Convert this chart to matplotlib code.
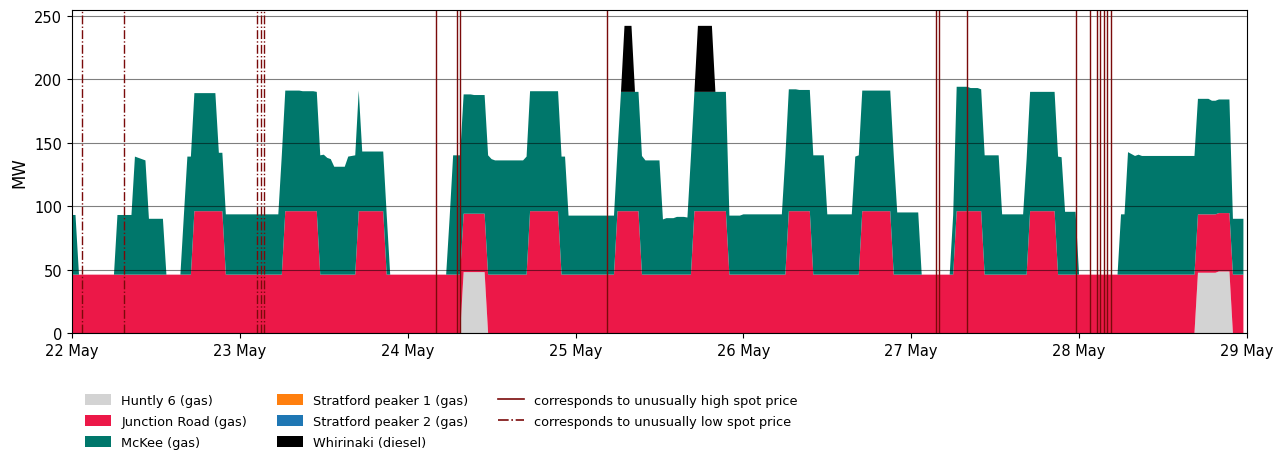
import matplotlib

matplotlib.use("Agg")  # headless
import matplotlib.pyplot as plt
import matplotlib.dates as mdates
from matplotlib.lines import Line2D
import numpy as np
import pandas as pd

# Half-hourly trading periods, 22 May 00:00 .. 28 May 23:30
START = pd.Timestamp("2021-05-22 00:00")
TIMES = pd.date_range(START, periods=336, freq="30min")

# Station output as step changes: (hours after 22 May 00:00, MW from then on)
HUNTLY6_HOURS = [0, 56.0, 59.5, 161.0, 164.0, 166.0]
HUNTLY6_MW = [0, 48, 0, 47.5, 48.5, 0]

JUNCTION_HOURS = [0, 17.5, 22.0, 30.5, 35.5, 41.0, 45.0, 65.5, 70.0, 78.0, 81.5,
                  89.0, 94.0, 102.5, 106.0, 113.0, 117.5, 126.5, 130.5, 137.0, 141.0]
JUNCTION_MW = [46, 96, 46, 96, 46, 96, 46, 96, 46, 96, 46,
               96, 46, 96, 46, 96, 46, 96, 46, 96, 46]

MCKEE_HOURS = [0, 1.0, 6.5, 9.0, 9.5, 10.0, 10.5, 11.0, 13.5, 16.0, 16.5, 21.0, 22.0,
               30.0, 30.5, 33.0, 35.0, 36.0, 36.5, 37.0, 37.5, 39.5, 40.0, 40.5, 41.0,
               41.5, 45.5, 54.0, 54.5, 57.5, 59.5, 60.0, 60.5, 65.0, 65.5, 70.0, 71.0,
               78.0, 78.5, 81.5, 82.0, 84.5, 85.0, 86.5, 88.0, 88.5, 89.0, 94.0, 96.0,
               102.0, 102.5, 104.0, 106.0, 108.0, 112.0, 112.5, 113.0, 117.5, 118.0,
               121.5, 126.0, 126.5, 128.5, 130.0, 130.5, 133.0, 136.5, 137.0, 141.0,
               141.5, 142.0, 144.0, 150.0, 151.0, 151.5, 152.0, 152.5, 153.0, 161.0,
               163.0, 166.0]
MCKEE_MW = [47, 0, 47, 93, 92, 91, 90, 44, 0, 47, 93, 46, 47.5,
            94, 95, 94.5, 94, 94.5, 92, 91, 85, 93, 93.5, 94, 95,
            47, 0, 45, 94, 93.5, 94, 91, 90, 93, 94.5, 93, 46.5,
            47, 94, 93.5, 90, 43.5, 44.5, 45.5, 45, 93, 94, 46.5, 47.5,
            93, 96, 95.5, 94, 47.5, 93, 94, 95, 94, 49,
            0, 47, 98, 97, 96, 94, 47.5, 91, 94, 93,
            92.5, 49.5, 0, 47.5, 96.5, 95, 93.5, 94.5, 93.5, 91,
            89.5, 44]

STRATFORD1_HOURS = [0]
STRATFORD1_MW = [0]
STRATFORD2_HOURS = [0]
STRATFORD2_MW = [0]

WHIRINAKI_HOURS = [0, 79.0, 80.5, 89.5, 92.0]
WHIRINAKI_MW = [0, 52, 0, 52, 0]

# Trading periods flagged for unusual spot prices (hours after 22 May 00:00)
HIGH_PRICE_HOURS = [52.0, 55.0, 55.5, 76.5, 123.5, 124.0, 128.0,
                    143.5, 145.5, 146.5, 147.0, 147.5, 148.0, 148.5]
LOW_PRICE_HOURS = [1.5, 7.5, 26.5, 27.0, 27.5]

LABELS = ["Huntly 6 (gas)", "Junction Road (gas)", "McKee (gas)",
          "Stratford peaker 1 (gas)", "Stratford peaker 2 (gas)", "Whirinaki (diesel)"]
COLORS = ["#d3d3d3", "#ec1848", "#00776b", "#ff7f0e", "#1f77b4", "#000000"]
PRICE_RED = "#7a0a0a"


def expand(hours, mw):
    """Turn a list of step changes into one value per half-hour."""
    t = np.arange(len(TIMES)) * 0.5
    idx = np.searchsorted(hours, t, side="right") - 1
    return np.asarray(mw, dtype=float)[idx]


series = [
    expand(HUNTLY6_HOURS, HUNTLY6_MW),
    expand(JUNCTION_HOURS, JUNCTION_MW),
    expand(MCKEE_HOURS, MCKEE_MW),
    expand(STRATFORD1_HOURS, STRATFORD1_MW),
    expand(STRATFORD2_HOURS, STRATFORD2_MW),
    expand(WHIRINAKI_HOURS, WHIRINAKI_MW),
]

fig = plt.figure(figsize=(12.88, 4.52), dpi=100)
ax = fig.add_axes([0.0559, 0.261, 0.9122, 0.7147])

areas = ax.stackplot(TIMES, *series, colors=COLORS, labels=LABELS, linewidth=0)

for h in HIGH_PRICE_HOURS:
    ax.axvline(START + pd.Timedelta(hours=h), color=PRICE_RED, linewidth=1.0)
for h in LOW_PRICE_HOURS:
    ax.axvline(START + pd.Timedelta(hours=h), color=PRICE_RED, linewidth=1.0, linestyle="-.")

ax.set_xlim(START, START + pd.Timedelta(days=7))
ax.set_ylim(0, 254.5)
ax.set_yticks([0, 50, 100, 150, 200, 250])
ax.xaxis.set_major_locator(mdates.DayLocator())
ax.xaxis.set_major_formatter(mdates.DateFormatter("%d %b"))
ax.tick_params(labelsize=10.5)
ax.grid(axis="y", color="k", alpha=0.5, linewidth=0.8)
ax.set_ylabel("MW", fontsize=12)

handles = list(areas) + [
    Line2D([], [], color=PRICE_RED, linewidth=1.2),
    Line2D([], [], color=PRICE_RED, linewidth=1.2, linestyle="-."),
]
labels = LABELS + ["corresponds to unusually high spot price",
                   "corresponds to unusually low spot price"]
fig.legend(handles, labels, loc="upper left", bbox_to_anchor=(0.057, 0.152),
           ncol=3, frameon=False, fontsize=9.3, labelspacing=0.62,
           handleheight=0.9, columnspacing=2.3)

fig.savefig("out.png", dpi=100, facecolor="white")
plt.close(fig)
